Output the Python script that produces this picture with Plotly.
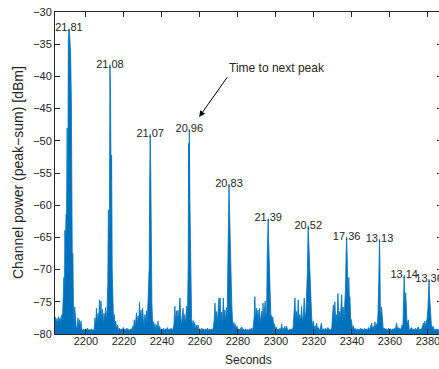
import plotly.graph_objects as go

# ---- data ----
time_s = [
    2183.7, 2184.0, 2184.4, 2184.8, 2185.2, 2185.6, 2186.0, 2186.4,
    2186.8, 2187.2, 2187.6, 2188.05, 2188.4, 2188.7, 2188.9, 2189.2,
    2189.5, 2189.8, 2190.1, 2190.4, 2190.7, 2191.05, 2191.4, 2191.9,
    2192.3, 2192.6, 2192.8, 2193.1, 2193.4, 2193.7, 2194.1, 2194.5,
    2194.9, 2195.3, 2195.8, 2196.2, 2196.6, 2197.0, 2197.4, 2197.8,
    2198.3, 2198.8, 2199.3, 2199.8, 2200.3, 2200.8, 2201.3, 2201.8,
    2202.3, 2202.8, 2203.3, 2203.8, 2204.3, 2204.7, 2205.1, 2205.5,
    2205.9, 2206.3, 2206.7, 2207.1, 2207.5, 2207.9, 2208.3, 2208.7,
    2209.1, 2209.5, 2209.9, 2210.3, 2210.7, 2211.1, 2211.5, 2211.8,
    2212.1, 2212.4, 2212.6, 2212.9, 2213.2, 2213.5, 2213.8, 2214.1,
    2214.5, 2214.9, 2215.3, 2215.7, 2216.1, 2216.6, 2217.1, 2217.6,
    2218.1, 2218.6, 2219.1, 2219.6, 2220.1, 2220.6, 2221.1, 2221.6,
    2222.1, 2222.6, 2223.1, 2223.6, 2224.1, 2224.6, 2225.0, 2225.4,
    2225.8, 2226.2, 2226.6, 2227.0, 2227.4, 2227.8, 2228.2, 2228.6,
    2229.0, 2229.4, 2229.8, 2230.2, 2230.6, 2231.0, 2231.4, 2231.8,
    2232.2, 2232.6, 2233.0, 2233.3, 2233.55, 2233.8, 2234.1, 2234.4,
    2234.7, 2235.1, 2235.5, 2235.9, 2236.3, 2236.7, 2237.1, 2237.5,
    2237.9, 2238.3, 2238.8, 2239.3, 2239.8, 2240.3, 2240.8, 2241.3,
    2241.8, 2242.3, 2242.8, 2243.3, 2243.8, 2244.3, 2244.8, 2245.3,
    2245.8, 2246.3, 2246.8, 2247.2, 2247.7, 2248.1, 2248.4, 2248.8,
    2249.2, 2249.5, 2249.9, 2250.3, 2250.7, 2251.1, 2251.5, 2251.9,
    2252.3, 2252.7, 2253.0, 2253.4, 2253.8, 2254.05, 2254.2, 2254.4,
    2254.7, 2255.0, 2255.3, 2255.6, 2256.0, 2256.4, 2256.8, 2257.2,
    2257.6, 2258.0, 2258.5, 2259.0, 2259.5, 2260.0, 2260.5, 2261.0,
    2261.5, 2262.0, 2262.5, 2263.0, 2263.5, 2264.0, 2264.5, 2265.0,
    2265.5, 2266.0, 2266.5, 2267.0, 2267.5, 2267.9, 2268.3, 2268.7,
    2269.1, 2269.5, 2270.0, 2270.3, 2270.6, 2271.0, 2271.4, 2271.8,
    2272.3, 2272.7, 2273.1, 2273.5, 2273.9, 2274.3, 2274.7, 2275.0,
    2275.3, 2275.55, 2275.8, 2276.1, 2276.4, 2276.7, 2277.1, 2277.5,
    2277.9, 2278.3, 2278.7, 2279.1, 2279.5, 2280.0, 2280.5, 2281.0,
    2281.5, 2282.0, 2282.5, 2283.0, 2283.5, 2284.0, 2284.5, 2285.0,
    2285.5, 2286.0, 2286.5, 2287.0, 2287.5, 2288.0, 2288.5, 2288.9,
    2289.3, 2289.8, 2290.2, 2290.5, 2290.9, 2291.3, 2291.7, 2292.1,
    2292.5, 2292.9, 2293.2, 2293.6, 2294.0, 2294.3, 2294.7, 2295.1,
    2295.4, 2295.7, 2295.9, 2296.2, 2296.5, 2296.9, 2297.3, 2297.9,
    2298.4, 2298.8, 2299.2, 2299.6, 2300.1, 2300.6, 2301.1, 2301.6,
    2302.1, 2302.6, 2303.0, 2303.4, 2303.9, 2304.3, 2304.7, 2305.1,
    2305.6, 2306.1, 2306.6, 2307.1, 2307.6, 2308.1, 2308.6, 2309.1,
    2309.5, 2310.0, 2310.4, 2310.9, 2311.3, 2311.7, 2312.1, 2312.6,
    2313.0, 2313.5, 2313.9, 2314.4, 2314.9, 2315.3, 2315.8, 2316.2,
    2316.6, 2316.85, 2317.0, 2317.3, 2317.6, 2317.9, 2318.3, 2318.8,
    2319.2, 2319.7, 2320.1, 2320.6, 2321.0, 2321.4, 2321.9, 2322.4,
    2322.9, 2323.4, 2323.9, 2324.4, 2324.9, 2325.4, 2325.9, 2326.4,
    2326.9, 2327.4, 2327.9, 2328.4, 2328.9, 2329.4, 2329.8, 2330.2,
    2330.6, 2331.0, 2331.4, 2331.8, 2332.2, 2332.6, 2333.0, 2333.4,
    2333.8, 2334.2, 2334.6, 2335.0, 2335.4, 2335.8, 2336.2, 2336.6,
    2336.9, 2337.2, 2337.5, 2337.8, 2338.1, 2338.4, 2338.7, 2338.9,
    2339.3, 2339.8, 2340.2, 2340.7, 2341.2, 2341.7, 2342.2, 2342.7,
    2343.2, 2343.7, 2344.2, 2344.7, 2345.2, 2345.7, 2346.2, 2346.7,
    2347.2, 2347.7, 2348.2, 2348.7, 2349.2, 2349.6, 2350.0, 2350.4,
    2350.8, 2351.2, 2351.7, 2352.1, 2352.5, 2352.9, 2353.3, 2353.7,
    2354.1, 2354.35, 2354.5, 2354.7, 2355.0, 2355.3, 2355.6, 2356.0,
    2356.4, 2356.8, 2357.3, 2357.8, 2358.3, 2358.8, 2359.3, 2359.8,
    2360.3, 2360.8, 2361.3, 2361.8, 2362.3, 2362.8, 2363.2, 2363.5,
    2363.9, 2364.4, 2364.8, 2365.2, 2365.6, 2366.0, 2366.4, 2366.8,
    2367.1, 2367.35, 2367.5, 2367.7, 2368.0, 2368.3, 2368.6, 2368.9,
    2369.3, 2369.7, 2370.1, 2370.6, 2371.0, 2371.4, 2371.9, 2372.4,
    2372.9, 2373.4, 2373.9, 2374.4, 2374.9, 2375.4, 2375.9, 2376.4,
    2376.9, 2377.3, 2377.6, 2378.0, 2378.4, 2378.8, 2379.2, 2379.6,
    2380.0, 2380.3, 2380.6, 2380.85, 2381.1, 2381.4, 2381.8, 2382.2,
    2382.7, 2383.2, 2383.7, 2384.2, 2384.7, 2385.2, 2385.8,
]

power_dbm = [
    -78.0, -77.4, -78.3, -77.6, -78.6, -77.3, -78.1, -77.5,
    -78.4, -77.0, -77.9, -75.2, -71.2, -73.5, -63.9, -66.0,
    -61.5, -61.2, -48.0, -64.0, -34.5, -32.6, -33.5, -36.4,
    -43.5, -60.0, -68.5, -67.5, -75.5, -78.3, -75.8, -78.6,
    -79.3, -78.9, -77.5, -79.1, -77.8, -79.2, -78.0, -79.3,
    -79.4, -79.2, -79.5, -79.2, -79.4, -79.1, -79.4, -79.3,
    -79.5, -79.2, -79.4, -79.3, -79.5, -77.5, -79.0, -76.0,
    -78.5, -76.8, -78.2, -74.7, -77.5, -74.9, -78.4, -76.2,
    -78.6, -76.8, -78.0, -75.9, -77.4, -76.4, -72.0, -60.7,
    -65.0, -61.1, -38.2, -42.0, -56.0, -52.2, -69.8, -74.5,
    -78.3, -77.0, -78.9, -78.0, -79.2, -78.6, -79.4, -79.1,
    -79.4, -79.2, -79.5, -79.0, -79.4, -79.2, -79.5, -79.1,
    -79.4, -79.3, -79.5, -79.2, -79.4, -78.8, -79.3, -77.8,
    -79.0, -78.0, -76.7, -78.6, -77.2, -78.0, -75.0, -77.8,
    -76.3, -78.4, -76.0, -77.6, -78.8, -77.0, -78.2, -76.4,
    -78.5, -75.5, -72.0, -69.6, -56.0, -49.0, -55.0, -68.0,
    -75.0, -78.5, -78.1, -79.2, -78.4, -79.3, -78.6, -79.4,
    -78.0, -79.3, -78.8, -79.5, -79.2, -79.4, -79.1, -79.5,
    -79.2, -79.4, -79.0, -79.4, -79.2, -79.5, -79.1, -79.4,
    -79.2, -78.6, -75.7, -78.0, -76.4, -78.5, -76.3, -77.9,
    -75.5, -74.4, -77.6, -78.6, -77.2, -76.0, -78.3, -77.0,
    -78.6, -77.5, -75.7, -77.8, -69.6, -50.4, -59.0, -48.2,
    -59.2, -66.0, -72.0, -77.8, -78.9, -77.9, -79.1, -78.2,
    -79.3, -78.6, -79.2, -78.6, -79.4, -79.2, -79.5, -79.1,
    -79.4, -79.2, -79.5, -79.2, -79.4, -79.1, -79.5, -79.2,
    -79.4, -79.2, -79.5, -79.0, -77.8, -75.2, -78.0, -76.5,
    -78.4, -77.0, -74.4, -77.2, -74.4, -78.1, -76.6, -78.5,
    -74.4, -77.6, -76.3, -78.2, -75.9, -77.4, -70.0, -60.0,
    -56.7, -60.5, -64.9, -68.0, -69.0, -75.0, -77.8, -78.9,
    -78.2, -79.2, -78.5, -79.3, -78.8, -79.4, -79.2, -79.4,
    -79.1, -78.9, -79.4, -79.2, -79.5, -79.2, -79.4, -79.3,
    -79.5, -79.2, -79.4, -79.1, -79.5, -79.0, -77.5, -74.2,
    -77.8, -76.0, -78.0, -76.3, -77.6, -76.0, -78.3, -77.1,
    -76.5, -78.2, -75.2, -77.8, -76.0, -74.9, -77.0, -77.0,
    -68.0, -63.0, -62.1, -66.0, -70.0, -74.0, -77.0, -77.4,
    -77.4, -79.0, -78.4, -79.3, -78.9, -79.4, -79.2, -79.5,
    -79.1, -79.4, -78.4, -79.3, -79.1, -79.4, -78.8, -79.4,
    -78.8, -79.3, -79.5, -79.2, -79.4, -79.2, -79.5, -78.8,
    -77.0, -74.4, -77.8, -76.5, -78.3, -74.7, -77.5, -77.0,
    -78.2, -75.7, -78.0, -77.2, -74.4, -77.8, -76.5, -74.0,
    -70.0, -64.5, -63.2, -66.0, -68.5, -70.1, -75.0, -77.4,
    -78.8, -78.0, -79.2, -78.7, -79.4, -78.3, -79.3, -79.0,
    -79.5, -79.1, -78.3, -79.4, -79.2, -79.5, -79.1, -79.4,
    -79.2, -79.0, -79.4, -79.2, -79.5, -79.0, -77.0, -75.5,
    -78.0, -75.0, -77.6, -77.0, -78.3, -73.7, -77.0, -76.5,
    -78.0, -76.0, -73.9, -77.6, -75.8, -77.9, -75.5, -73.0,
    -68.0, -64.9, -68.0, -74.0, -72.5, -71.2, -76.0, -74.2,
    -77.5, -78.0, -79.2, -78.7, -79.4, -79.1, -79.5, -79.2,
    -79.4, -79.2, -79.5, -79.1, -79.4, -79.2, -79.5, -79.1,
    -79.4, -79.2, -79.4, -79.0, -79.4, -79.1, -78.6, -78.3,
    -79.2, -78.8, -79.3, -78.1, -79.0, -78.4, -78.9, -77.0,
    -72.0, -66.0, -65.3, -68.0, -77.8, -76.5, -75.8, -78.5,
    -79.0, -79.3, -79.1, -79.4, -79.2, -79.5, -79.1, -79.4,
    -79.2, -79.5, -79.2, -79.4, -79.1, -79.4, -78.9, -78.3,
    -79.2, -79.0, -79.4, -79.1, -79.4, -78.7, -78.6, -79.1,
    -76.0, -72.0, -70.9, -74.0, -76.0, -73.6, -76.5, -77.8,
    -78.5, -77.8, -79.2, -79.4, -79.1, -79.0, -79.4, -79.2,
    -79.5, -79.1, -79.4, -79.2, -78.9, -79.4, -79.2, -79.5,
    -79.1, -78.8, -78.3, -79.0, -78.0, -78.9, -78.3, -77.5,
    -76.0, -72.5, -71.5, -74.0, -75.2, -77.5, -78.6, -79.2,
    -78.8, -79.4, -79.2, -79.5, -79.2, -79.4, -79.3,
]

assert len(time_s) == len(power_dbm)

peak_time_s = [2191.05, 2212.6, 2233.8, 2254.4, 2275.3, 2295.9,
               2317.0, 2337.2, 2354.5, 2367.5, 2380.6]
peak_power_dbm = [-32.6, -38.2, -49.0, -48.2, -56.7, -62.1,
                  -63.2, -64.9, -65.3, -70.9, -71.5]
peak_labels = ["21.81", "21.08", "21.07", "20.96", "20.83", "21.39",
               "20.52", "17.36", "13.13", "13.14", "13.36"]

noise_floor_dbm = -80
x_range = [2183.7, 2387.4]
y_range = [-80, -30]
x_ticks = [2200, 2220, 2240, 2260, 2280, 2300, 2320, 2340, 2360, 2380]
y_ticks = [-80, -75, -70, -65, -60, -55, -50, -45, -40, -35, -30]

arrow_tail = (2274.9, -39.9)
arrow_head = (2259.6, -46.3)
arrow_text = "Time to next peak"
x_title = "Seconds"
y_title = "Channel power (peak\u2212sum) [dBm]"

BLUE = "#0072BD"
INK = "#262626"
FONT = "Liberation Sans, Arial, sans-serif"

fig = go.Figure()
fig.add_trace(go.Scatter(
    x=[time_s[0], time_s[-1]], y=[noise_floor_dbm, noise_floor_dbm],
    mode="lines", line=dict(width=0, color=BLUE), showlegend=False,
    hoverinfo="skip"))
fig.add_trace(go.Scatter(
    x=time_s, y=power_dbm, mode="lines",
    line=dict(color=BLUE, width=0.8), fill="tonexty", fillcolor=BLUE,
    showlegend=False))
fig.add_trace(go.Scatter(
    x=peak_time_s, y=peak_power_dbm, mode="text", text=peak_labels,
    textposition="middle center",
    textfont=dict(family=FONT, size=11, color=INK),
    showlegend=False, cliponaxis=False))

fig.add_annotation(
    x=arrow_head[0], y=arrow_head[1], ax=arrow_tail[0], ay=arrow_tail[1],
    xref="x", yref="y", axref="x", ayref="y", text="",
    showarrow=True, arrowhead=2, arrowsize=1.2, arrowwidth=1, arrowcolor="black")
fig.add_annotation(
    x=arrow_tail[0], y=arrow_tail[1], xref="x", yref="y", text=arrow_text,
    showarrow=False, xanchor="left", yanchor="bottom", xshift=-1, yshift=-1,
    font=dict(family=FONT, size=12, color=INK))

# axis titles placed as annotations for exact positioning
fig.add_annotation(
    x=0.5, y=0, xref="paper", yref="paper", text=x_title, showarrow=False,
    xanchor="center", yanchor="middle", yshift=-26,
    font=dict(family=FONT, size=12, color=INK))
fig.add_annotation(
    x=0, y=0.5, xref="paper", yref="paper", text=y_title, showarrow=False,
    textangle=-90, xanchor="center", yanchor="middle", xshift=-37,
    font=dict(family=FONT, size=14, color=INK))

axis_common = dict(
    showgrid=False, zeroline=False, showline=True, linecolor=INK, linewidth=1,
    ticks="inside", ticklen=5, tickwidth=1, tickcolor=INK, mirror="ticks",
    tickfont=dict(family=FONT, size=11, color=INK), automargin=False,
)
fig.update_xaxes(range=x_range, tickvals=x_ticks, ticklabelstandoff=-3,
                 **axis_common)
fig.update_yaxes(range=y_range, tickvals=y_ticks, **axis_common)

fig.update_layout(
    width=442, height=369,
    margin=dict(l=55, r=0, t=12, b=35),
    paper_bgcolor="white", plot_bgcolor="white",
    font=dict(family=FONT, size=11, color=INK),
)

# remove the page's default body margin so the figure sits at the window origin
fig.write_html(
    "out.html",
    config={"displayModeBar": False},
    post_script="document.body.style.margin='0';document.body.style.overflow='hidden';",
)
